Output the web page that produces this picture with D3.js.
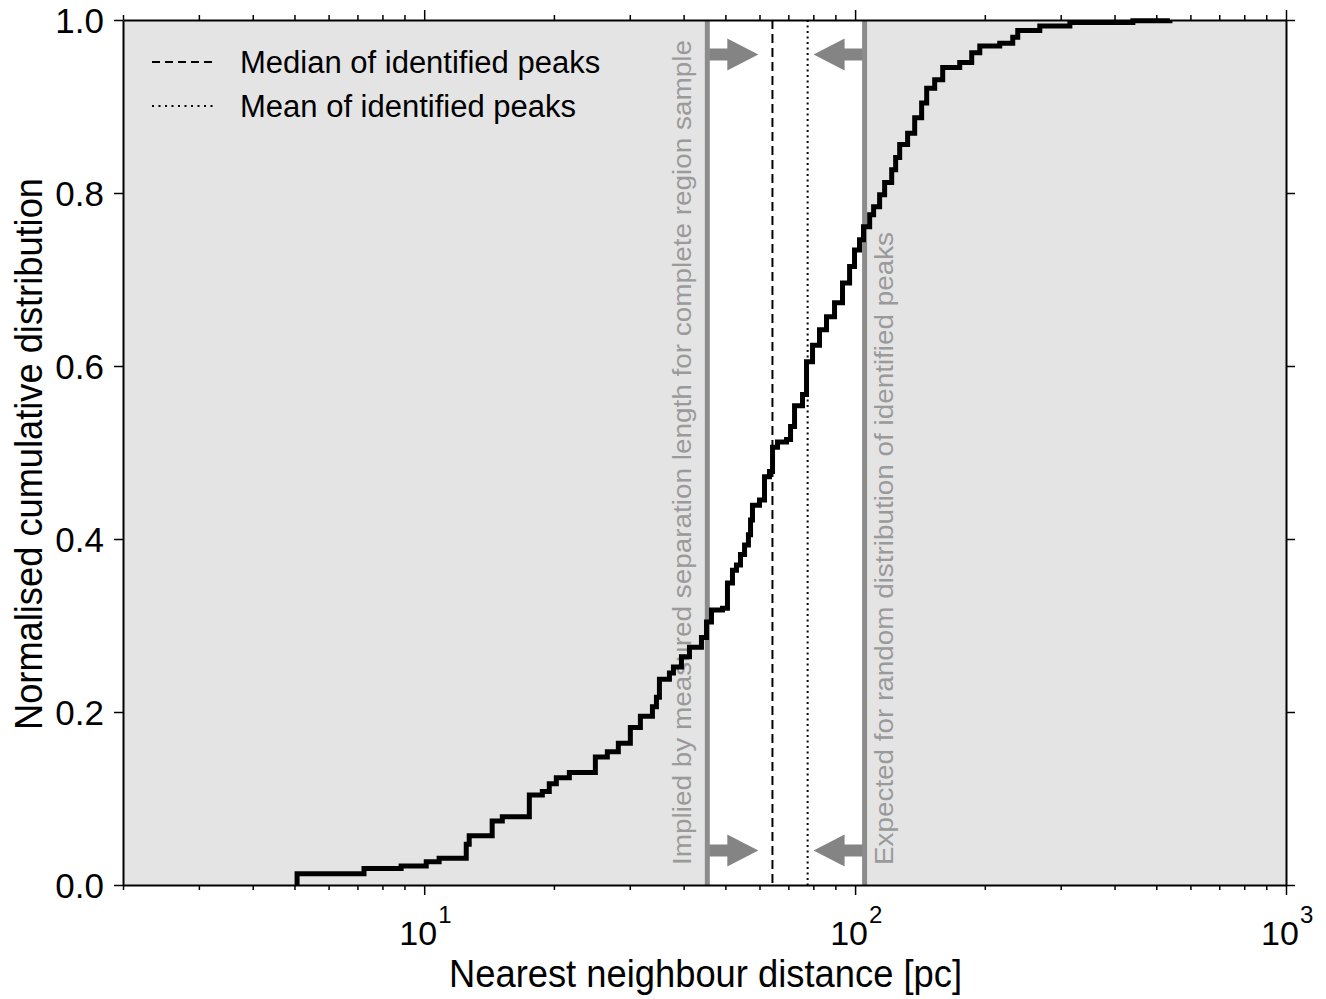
<!DOCTYPE html>
<html><head><meta charset="utf-8">
<script src="https://cdn.jsdelivr.net/npm/d3@7"></script>
<style>body{margin:0;background:#fff}svg{display:block}</style>
</head><body><svg id="c" width="1326" height="999"></svg>
<script>
// ---- data ----
const distances = [5.07,5.07,7.25,8.84,10.11,10.83,12.52,12.72,14.38,15.18,17.54,18.80,19.51,20.26,21.72,24.96,26.61,28.22,30.09,31.75,33.86,34.59,35.15,37.08,37.88,39.54,41.27,44.00,45.20,46.42,49.23,50.56,51.93,53.05,54.20,55.40,56.55,57.2,57.79,60.0,61.63,63.30,64.33,66.07,69.33,70.83,72.36,75.51,77.14,79.66,82.68,85.83,89.6,93.5,97.1,99.7,102.4,104.6,108.1,110.4,114.0,117.1,121.6,124.2,126.9,132.4,137.5,142.7,146.6,153.0,159.7,174.9,186.5,194.7,216.6,232.2,238.5,268.3,315.1,441.2,537.8];
const cumFraction = [0,0.013,0.019,0.022,0.027,0.031,0.047,0.057,0.074,0.079,0.104,0.108,0.117,0.124,0.130,0.148,0.154,0.164,0.182,0.195,0.206,0.217,0.238,0.245,0.252,0.264,0.275,0.286,0.304,0.318,0.320,0.349,0.364,0.370,0.382,0.393,0.405,0.422,0.439,0.445,0.472,0.478,0.506,0.512,0.515,0.530,0.554,0.567,0.605,0.624,0.642,0.657,0.673,0.696,0.715,0.734,0.746,0.761,0.775,0.784,0.798,0.812,0.827,0.841,0.856,0.869,0.887,0.904,0.921,0.931,0.945,0.951,0.962,0.970,0.973,0.980,0.988,0.993,0.997,0.999,1.0];
const medianDist = 64.3;
const meanDist = 77.6;
const impliedDist = 45.4;
const expectedDist = 105.2;
const xDomain = [2, 1000];
const xMajorTicks = [10, 100, 1000];
const xTickExponents = ["1", "2", "3"];
const yTicks = [0, 0.2, 0.4, 0.6, 0.8, 1.0];
const legendLabels = ["Median of identified peaks", "Mean of identified peaks"];
const impliedText = "Implied by measured separation length for complete region sample";
const expectedText = "Expected for random distribution of identified peaks";
const xTitle = "Nearest neighbour distance [pc]";
const yTitle = "Normalised cumulative distribution";

// ---- layout ----
const L = 123, R = 1286, T = 20, B = 885;
const FONT = "'Liberation Sans', Arial, Helvetica, sans-serif";
const svg = d3.select("#c");
const x = d3.scaleLog().domain(xDomain).range([L, R]);
const y = d3.scaleLinear().domain([0, 1]).range([B, T]);

// backgrounds
svg.append("rect").attr("x", L).attr("y", T).attr("width", R - L).attr("height", B - T).attr("fill", "#e4e4e4");
svg.append("rect").attr("x", x(impliedDist)).attr("y", T).attr("width", x(expectedDist) - x(impliedDist)).attr("height", B - T).attr("fill", "#ffffff");

// grey boundary lines
[impliedDist, expectedDist].forEach(v => {
  svg.append("line").attr("x1", x(v)).attr("x2", x(v)).attr("y1", T).attr("y2", B)
    .attr("stroke", "#8c8c8c").attr("stroke-width", 5);
});

// median & mean
svg.append("line").attr("x1", x(medianDist)).attr("x2", x(medianDist)).attr("y1", T).attr("y2", B)
  .attr("stroke", "#000").attr("stroke-width", 2).attr("stroke-dasharray", "9,5");
svg.append("line").attr("x1", x(meanDist)).attr("x2", x(meanDist)).attr("y1", T).attr("y2", B)
  .attr("stroke", "#000").attr("stroke-width", 2).attr("stroke-dasharray", "2,3.5");

// rotated annotation texts
function rotText(txt, bx, by, len) {
  svg.append("text").attr("x", bx).attr("y", by)
    .attr("transform", `rotate(-90,${bx},${by})`)
    .attr("font-family", FONT).attr("font-size", 26).attr("fill", "#9a9a9a")
    .attr("textLength", len).attr("lengthAdjust", "spacingAndGlyphs")
    .text(txt);
}
rotText(impliedText, x(impliedDist) - 16, 865, 825);
rotText(expectedText, x(expectedDist) + 28, 865, 633);

// arrows
function arrow(x0, yc, dir) {
  const sl = 18, hl = 31, sh = 6, hh = 16;
  const p = d3.path();
  p.moveTo(x0, yc - sh);
  p.lineTo(x0 + dir * sl, yc - sh);
  p.lineTo(x0 + dir * sl, yc - hh);
  p.lineTo(x0 + dir * (sl + hl), yc);
  p.lineTo(x0 + dir * sl, yc + hh);
  p.lineTo(x0 + dir * sl, yc + sh);
  p.lineTo(x0, yc + sh);
  p.closePath();
  svg.append("path").attr("d", p.toString()).attr("fill", "#848484");
}
[0.96, 0.04].forEach(f => {
  arrow(x(impliedDist) + 2, y(f), 1);
  arrow(x(expectedDist) - 2, y(f), -1);
});

// CDF step curve
const pts = distances.map((d, i) => [x(d), y(cumFraction[i])]);
svg.append("path").attr("d", d3.line().curve(d3.curveStepAfter)(pts))
  .attr("fill", "none").attr("stroke", "#000").attr("stroke-width", 5).attr("stroke-linejoin", "miter");

// legend
const lg = svg.append("g");
[[62, "8,5"], [106, "2,4.5"]].forEach((s, i) => {
  lg.append("line").attr("x1", 152).attr("x2", 214).attr("y1", s[0]).attr("y2", s[0])
    .attr("stroke", "#000").attr("stroke-width", 1.8).attr("stroke-dasharray", s[1]);
  lg.append("text").attr("x", 240).attr("y", s[0] + 11).attr("font-family", FONT).attr("font-size", 31)
    .attr("fill", "#000").text(legendLabels[i]);
});

// axes
const minorTicks = [];
for (let e = 0; e < 3; e++) for (let k = 1; k < 10; k++) {
  const v = k * Math.pow(10, e);
  if (v >= xDomain[0] && v <= xDomain[1]) minorTicks.push(v);
}
minorTicks.push(1000);
const isMajor = v => xMajorTicks.some(m => Math.abs(m - v) < 1e-9);

function styleAxis(g) {
  g.select(".domain").attr("stroke", "#000").attr("stroke-width", 2);
  g.selectAll(".tick line").attr("stroke", "#000").attr("stroke-width", 1.5);
}
const gb = svg.append("g").attr("transform", `translate(0,${B})`)
  .call(d3.axisBottom(x).tickValues(minorTicks).tickFormat(() => "").tickSizeInner(5).tickSizeOuter(0));
gb.selectAll(".tick line").attr("y2", d => isMajor(d) ? 10 : 5);
styleAxis(gb);
const gt = svg.append("g").attr("transform", `translate(0,${T})`)
  .call(d3.axisTop(x).tickValues(minorTicks).tickFormat(() => "").tickSizeInner(5).tickSizeOuter(0));
gt.selectAll(".tick line").attr("y2", d => isMajor(d) ? -10 : -5);
styleAxis(gt);

const gl = svg.append("g").attr("transform", `translate(${L},0)`)
  .call(d3.axisLeft(y).tickValues(yTicks).tickFormat(d3.format(".1f")).tickSize(9).tickPadding(10).tickSizeOuter(0));
styleAxis(gl);
gl.selectAll(".tick text").attr("font-family", FONT).attr("font-size", 35).attr("fill", "#000").attr("dy", "0.36em");
const gr = svg.append("g").attr("transform", `translate(${R},0)`)
  .call(d3.axisRight(y).tickValues(yTicks).tickFormat(() => "").tickSize(9).tickSizeOuter(0));
styleAxis(gr);

// x major labels with superscripts
xMajorTicks.forEach((v, i) => {
  svg.append("text").attr("x", x(v) - 6).attr("y", 945).attr("text-anchor", "middle")
    .attr("font-family", FONT).attr("font-size", 34).attr("fill", "#000").text("10");
  svg.append("text").attr("x", x(v) + 14).attr("y", 923).attr("text-anchor", "start")
    .attr("font-family", FONT).attr("font-size", 24).attr("fill", "#000").text(xTickExponents[i]);
});

// axis titles
svg.append("text").attr("x", (L + R) / 2 + 1).attr("y", 987).attr("text-anchor", "middle")
  .attr("font-family", FONT).attr("font-size", 38).attr("fill", "#000")
  .attr("textLength", 513).attr("lengthAdjust", "spacingAndGlyphs").text(xTitle);
svg.append("text").attr("x", 42).attr("y", 454).attr("text-anchor", "middle")
  .attr("transform", "rotate(-90,42,454)")
  .attr("font-family", FONT).attr("font-size", 38).attr("fill", "#000")
  .attr("textLength", 552).attr("lengthAdjust", "spacingAndGlyphs").text(yTitle);
</script></body></html>
